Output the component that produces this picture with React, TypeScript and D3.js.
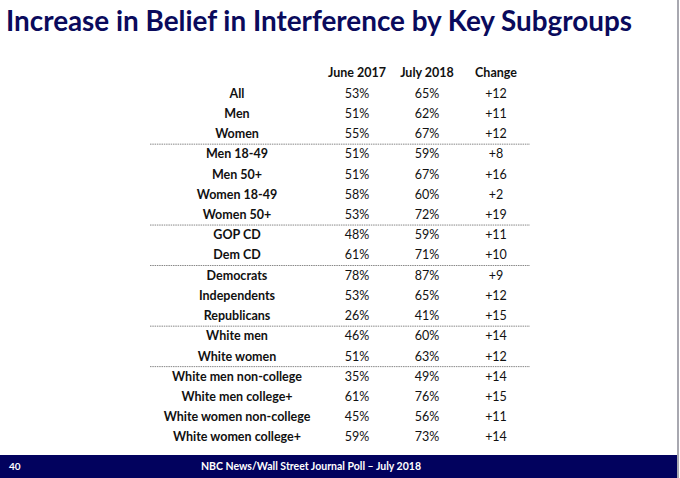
import React, { useEffect, useRef } from 'react';
import * as d3 from 'd3';

const groups = [
  'All', 'Men', 'Women', 'Men 18-49', 'Men 50+', 'Women 18-49', 'Women 50+',
  'GOP CD', 'Dem CD', 'Democrats', 'Independents', 'Republicans',
  'White men', 'White women', 'White men non-college', 'White men college+',
  'White women non-college', 'White women college+',
];
const june2017 = [53, 51, 55, 51, 51, 58, 53, 48, 61, 78, 53, 26, 46, 51, 35, 61, 45, 59];
const july2018 = [65, 62, 67, 59, 67, 60, 72, 59, 71, 87, 65, 41, 60, 63, 49, 76, 56, 73];
const columns = ['', 'June 2017', 'July 2018', 'Change'];
// rows after which a dotted separator is drawn
const dividersAfter = ['Women', 'Women 50+', 'Dem CD', 'Republicans', 'White women'];

const NAVY = '#0a0a5c';
const FONT = 'Lato, "Open Sans", sans-serif';

const App = () => {
  const ref = useRef<SVGSVGElement>(null);

  useEffect(() => {
    const svg = d3.select(ref.current);
    svg.selectAll('*').remove();
    const width = 680;
    const height = 478;

    svg.append('rect').attr('width', width).attr('height', height).attr('fill', '#fff');

    // title
    svg.append('text')
      .attr('x', 6)
      .attr('y', 31)
      .attr('font-family', FONT)
      .attr('font-weight', 700)
      .attr('font-size', 29)
      .attr('fill', NAVY)
      .attr('textLength', 626)
      .attr('lengthAdjust', 'spacingAndGlyphs')
      .text('Increase in Belief in Interference by Key Subgroups');

    const y = d3.scaleBand<string>().domain(groups).range([83, 447]);
    const x = d3.scaleOrdinal<string, number>().domain(columns).range([237, 357, 427, 496]);

    const g = svg.append('g').attr('font-family', FONT).attr('font-size', 12.5).attr('fill', '#111');

    // header
    g.selectAll('text.head')
      .data(columns.slice(1))
      .join('text')
      .attr('class', 'head')
      .attr('x', (d) => x(d))
      .attr('y', 77)
      .attr('text-anchor', 'middle')
      .attr('font-weight', 700)
      .text((d) => d);

    const rows = g.selectAll('g.row')
      .data(groups)
      .join('g')
      .attr('class', 'row')
      .attr('transform', (d) => `translate(0,${(y(d) as number) + y.bandwidth() / 2 + 4.5})`);

    rows.append('text')
      .attr('x', x(''))
      .attr('text-anchor', 'middle')
      .attr('font-weight', 700)
      .text((d) => d);

    rows.append('text')
      .attr('x', x('June 2017'))
      .attr('text-anchor', 'middle')
      .text((d, i) => `${june2017[i]}%`);

    rows.append('text')
      .attr('x', x('July 2018'))
      .attr('text-anchor', 'middle')
      .text((d, i) => `${july2018[i]}%`);

    rows.append('text')
      .attr('x', x('Change'))
      .attr('text-anchor', 'middle')
      .text((d, i) => `+${july2018[i] - june2017[i]}`);

    // dotted separators
    svg.selectAll('line.div')
      .data(dividersAfter)
      .join('line')
      .attr('class', 'div')
      .attr('x1', 150)
      .attr('x2', 530)
      .attr('y1', (d) => (y(d) as number) + y.bandwidth() + 0.5)
      .attr('y2', (d) => (y(d) as number) + y.bandwidth() + 0.5)
      .attr('stroke', '#888')
      .attr('stroke-width', 1)
      .attr('stroke-dasharray', '1.5,0.8');

    // footer band
    svg.append('rect')
      .attr('x', 0)
      .attr('y', 455)
      .attr('width', 678)
      .attr('height', 23)
      .attr('fill', '#02025e');

    svg.append('text')
      .attr('x', 9)
      .attr('y', 470)
      .attr('font-family', FONT)
      .attr('font-weight', 700)
      .attr('font-size', 10)
      .attr('fill', '#fff')
      .text('40');

    svg.append('text')
      .attr('x', 311)
      .attr('y', 470)
      .attr('text-anchor', 'middle')
      .attr('font-family', FONT)
      .attr('font-weight', 700)
      .attr('font-size', 10.5)
      .attr('fill', '#fff')
      .text('NBC News/Wall Street Journal Poll – July 2018');

    // right edge border
    svg.append('rect')
      .attr('x', 677)
      .attr('y', 0)
      .attr('width', 2)
      .attr('height', height)
      .attr('fill', '#a8a8b0');
  }, []);

  return (
    <svg
      ref={ref}
      width={680}
      height={478}
      style={{ position: 'absolute', left: 0, top: 0, display: 'block' }}
    />
  );
};

export default App;
